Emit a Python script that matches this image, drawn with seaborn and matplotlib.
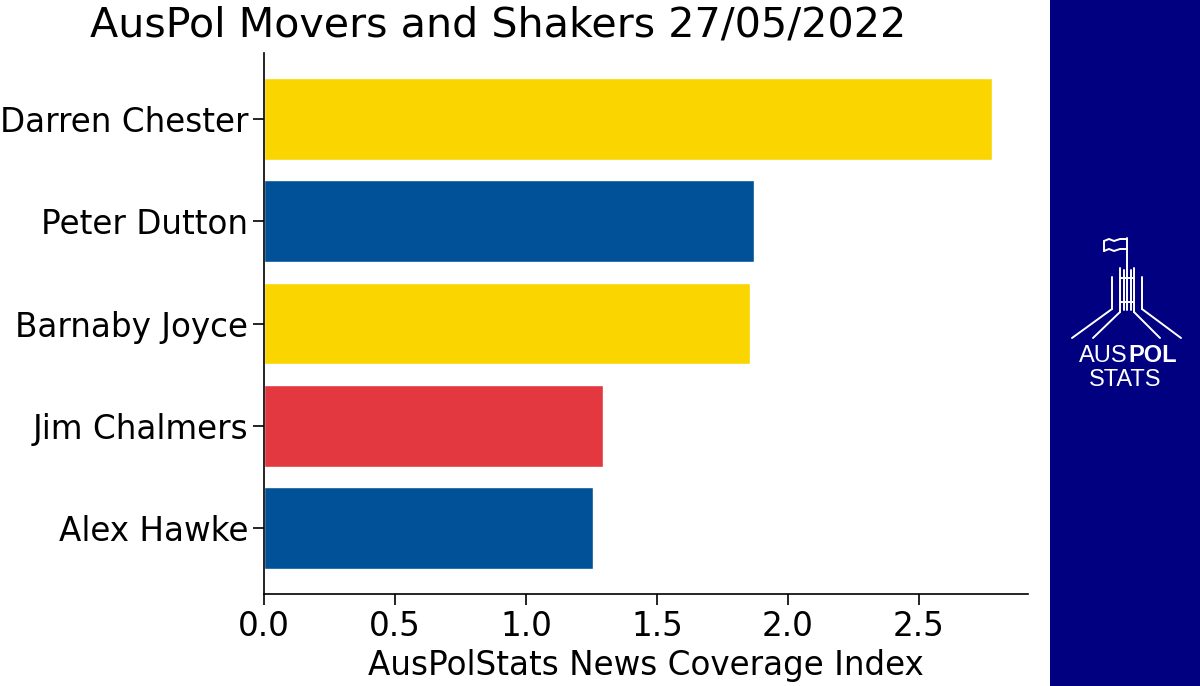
import matplotlib
matplotlib.use("Agg")
import matplotlib.pyplot as plt
import seaborn as sns
import pandas as pd

names = ["Darren Chester", "Peter Dutton", "Barnaby Joyce", "Jim Chalmers", "Alex Hawke"]
values = [2.777, 1.869, 1.855, 1.295, 1.254]
parties = ["NAT", "LIB", "NAT", "ALP", "LIB"]
party_colors = {"NAT": "#FAD500", "LIB": "#005197", "ALP": "#E43840"}

df = pd.DataFrame({"name": names, "value": values, "party": parties})

sns.set_style("ticks")
plt.rcParams['font.family'] = ['DejaVu Sans']
plt.rcParams.update({"text.color": "black", "axes.labelcolor": "black",
                     "xtick.color": "black", "ytick.color": "black",
                     "axes.edgecolor": "black"})

fig = plt.figure(figsize=(12, 6.86), dpi=100)
ax = fig.add_axes([264/1200, 1 - 594/686, (1028-264)/1200, (594-53)/686])
sns.barplot(data=df, x="value", y="name", hue="party", palette=party_colors,
            dodge=False, width=0.8, ax=ax, legend=False, saturation=1)
ax.set_ylim(4.64, -0.64)
ax.set_xlim(0, 2.916)
ax.set_ylabel("")
ax.set_xlabel("AusPolStats News Coverage Index", fontsize=23.5, labelpad=4)
ax.tick_params(axis="both", labelsize=23.5, length=8, width=1.2, color="black",
               labelcolor="black")
ax.set_xticks([0.0, 0.5, 1.0, 1.5, 2.0, 2.5])
ax.set_xticklabels(["0.0", "0.5", "1.0", "1.5", "2.0", "2.5"])
for s in ["top", "right"]:
    ax.spines[s].set_visible(False)
for s in ["left", "bottom"]:
    ax.spines[s].set_linewidth(1.2)
    ax.spines[s].set_color("black")
fig.text(498/1200, 1 - 25/686, "AusPol Movers and Shakers 27/05/2022", fontsize=29.7,
         ha="center", va="center", color="black")

# Logo panel
lp = fig.add_axes([1050/1200, 0, 150/1200, 1])
lp.set_xlim(1050, 1200)
lp.set_ylim(686, 0)
lp.set_facecolor("#000080")
for s in lp.spines.values():
    s.set_visible(False)
lp.set_xticks([])
lp.set_yticks([])
lw = 1.4
c = "white"
# flag pole and flag
lp.plot([1127, 1127], [238, 310], color=c, lw=lw)
lp.plot([1104, 1109, 1114, 1120, 1127], [241, 239, 241, 239, 239], color=c, lw=lw)
lp.plot([1104, 1109, 1114, 1120, 1127], [251, 249, 251, 249, 249], color=c, lw=lw)
lp.plot([1104, 1104], [241, 251], color=c, lw=lw)
# columns
for x in [1112, 1142]:
    lp.plot([x, x], [277, 309], color=c, lw=lw)
for x in [1120, 1134]:
    lp.plot([x, x], [268, 312], color=c, lw=lw)
for x in [1124, 1131]:
    lp.plot([x, x], [270, 310], color=c, lw=lw)
lp.plot([1120, 1134], [278, 278], color=c, lw=lw)
lp.plot([1120, 1134], [302, 302], color=c, lw=lw)
# legs
lp.plot([1112, 1072], [309, 338], color=c, lw=lw)
lp.plot([1120, 1093], [312, 338], color=c, lw=lw)
lp.plot([1142, 1181], [309, 338], color=c, lw=lw)
lp.plot([1134, 1160], [312, 338], color=c, lw=lw)
lp.text(1128, 356, "AUS", fontsize=17, family="Liberation Sans", color=c,
        ha="right", va="center")
lp.text(1128, 356, "POL", fontsize=17, family="Liberation Sans", color=c,
        fontweight="bold", ha="left", va="center")
lp.text(1125, 380, "STATS", fontsize=17, family="Liberation Sans", color=c,
        ha="center", va="center")

fig.savefig("out.png", dpi=100)
